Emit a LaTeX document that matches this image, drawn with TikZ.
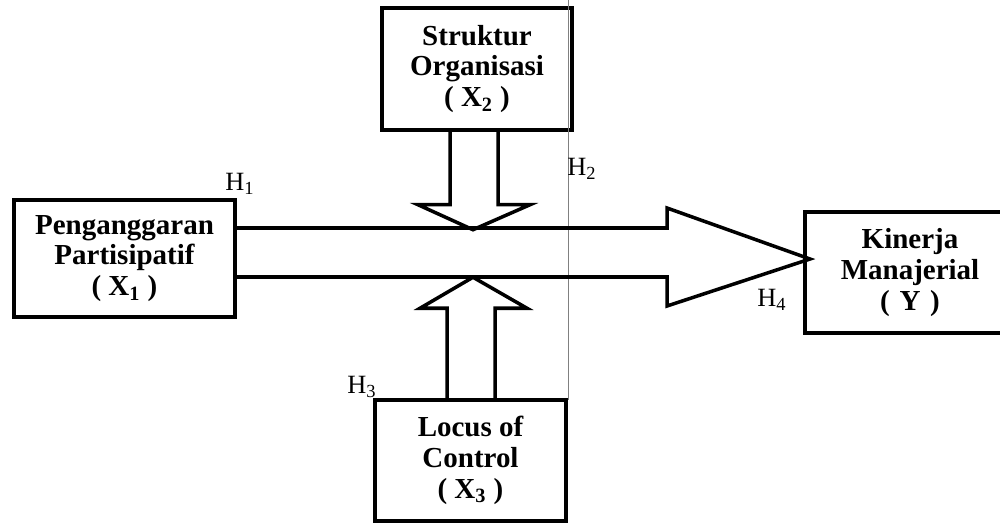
\documentclass[tikz,border=0pt]{standalone}
\usepackage{fontspec}
\setmainfont{Liberation Serif}
\usetikzlibrary{calc}
\tikzset{var/.style={rectangle, draw, line width=2pt, align=center, inner sep=0pt,
   font=\bfseries\fontsize{16.5}{17.5}\selectfont}}
\tikzset{hyp/.style={inner sep=0pt, font=\fontsize{15}{17}\selectfont}}
\tikzset{fat/.style={line width=2pt, line join=miter}}

\begin{document}
\begin{tikzpicture}[x=0.02cm, y=-0.02cm]

    \useasboundingbox (0,0) rectangle (1000,523);
    \clip (0,0) rectangle (1000,523);

    % variables
    \node[var, minimum width=4.42cm, minimum height=2.34cm] (x1) at (124.5,258.5) {Penganggaran\\Partisipatif\\( X\textsubscript{1} )};
    \node[var, minimum width=3.8cm, minimum height=2.44cm] (x2) at (477,69) {Struktur\\Organisasi\\( X\textsubscript{2} )};
    \node[var, minimum width=3.82cm, minimum height=2.42cm] (x3) at (470.5,460.5) {Locus of\\Control\\( X\textsubscript{3} )};
    \node[var, minimum width=4.2cm, minimum height=2.42cm, text width=3.3cm, xshift=-0.2cm] (y) at (920,272.5) {Kinerja\\Manajerial\\( Y )};

    \draw[gray, line width=0.5pt] (568,0) -- (568,400);

    % main arrow
    \coordinate (tip) at (810,259);
    \draw[fat] ($(x1.east)+(0,-30.5)$) -- (667,228) -- (667,208) -- (tip)
        -- (667,306) -- (667,277) -- ($(x1.east)+(0,18.5)$);

    % moderating arrows
    \draw[fat] ($(x2.south)+(-27,0)$) -- ++(0,73) -- ++(-32,0) -- ++(55,25)
        -- ++(57,-25) -- ++(-32,0) -- ++(0,-73);
    \draw[fat] ($(x3.north)+(-23.5,0)$) -- ++(0,-90) -- ++(-27,0) -- ++(53,-31)
        -- ++(54,31) -- ++(-32,0) -- ++(0,90);

    % hypotheses
    \node[hyp] (h1) at (240,184) {H\textsubscript{1}};
    \node[hyp] (h2) at (582,169) {H\textsubscript{2}};
    \node[hyp] (h3) at (362,387) {H\textsubscript{3}};
    \node[hyp] (h4) at (772,300) {H\textsubscript{4}};

\end{tikzpicture}
\end{document}
